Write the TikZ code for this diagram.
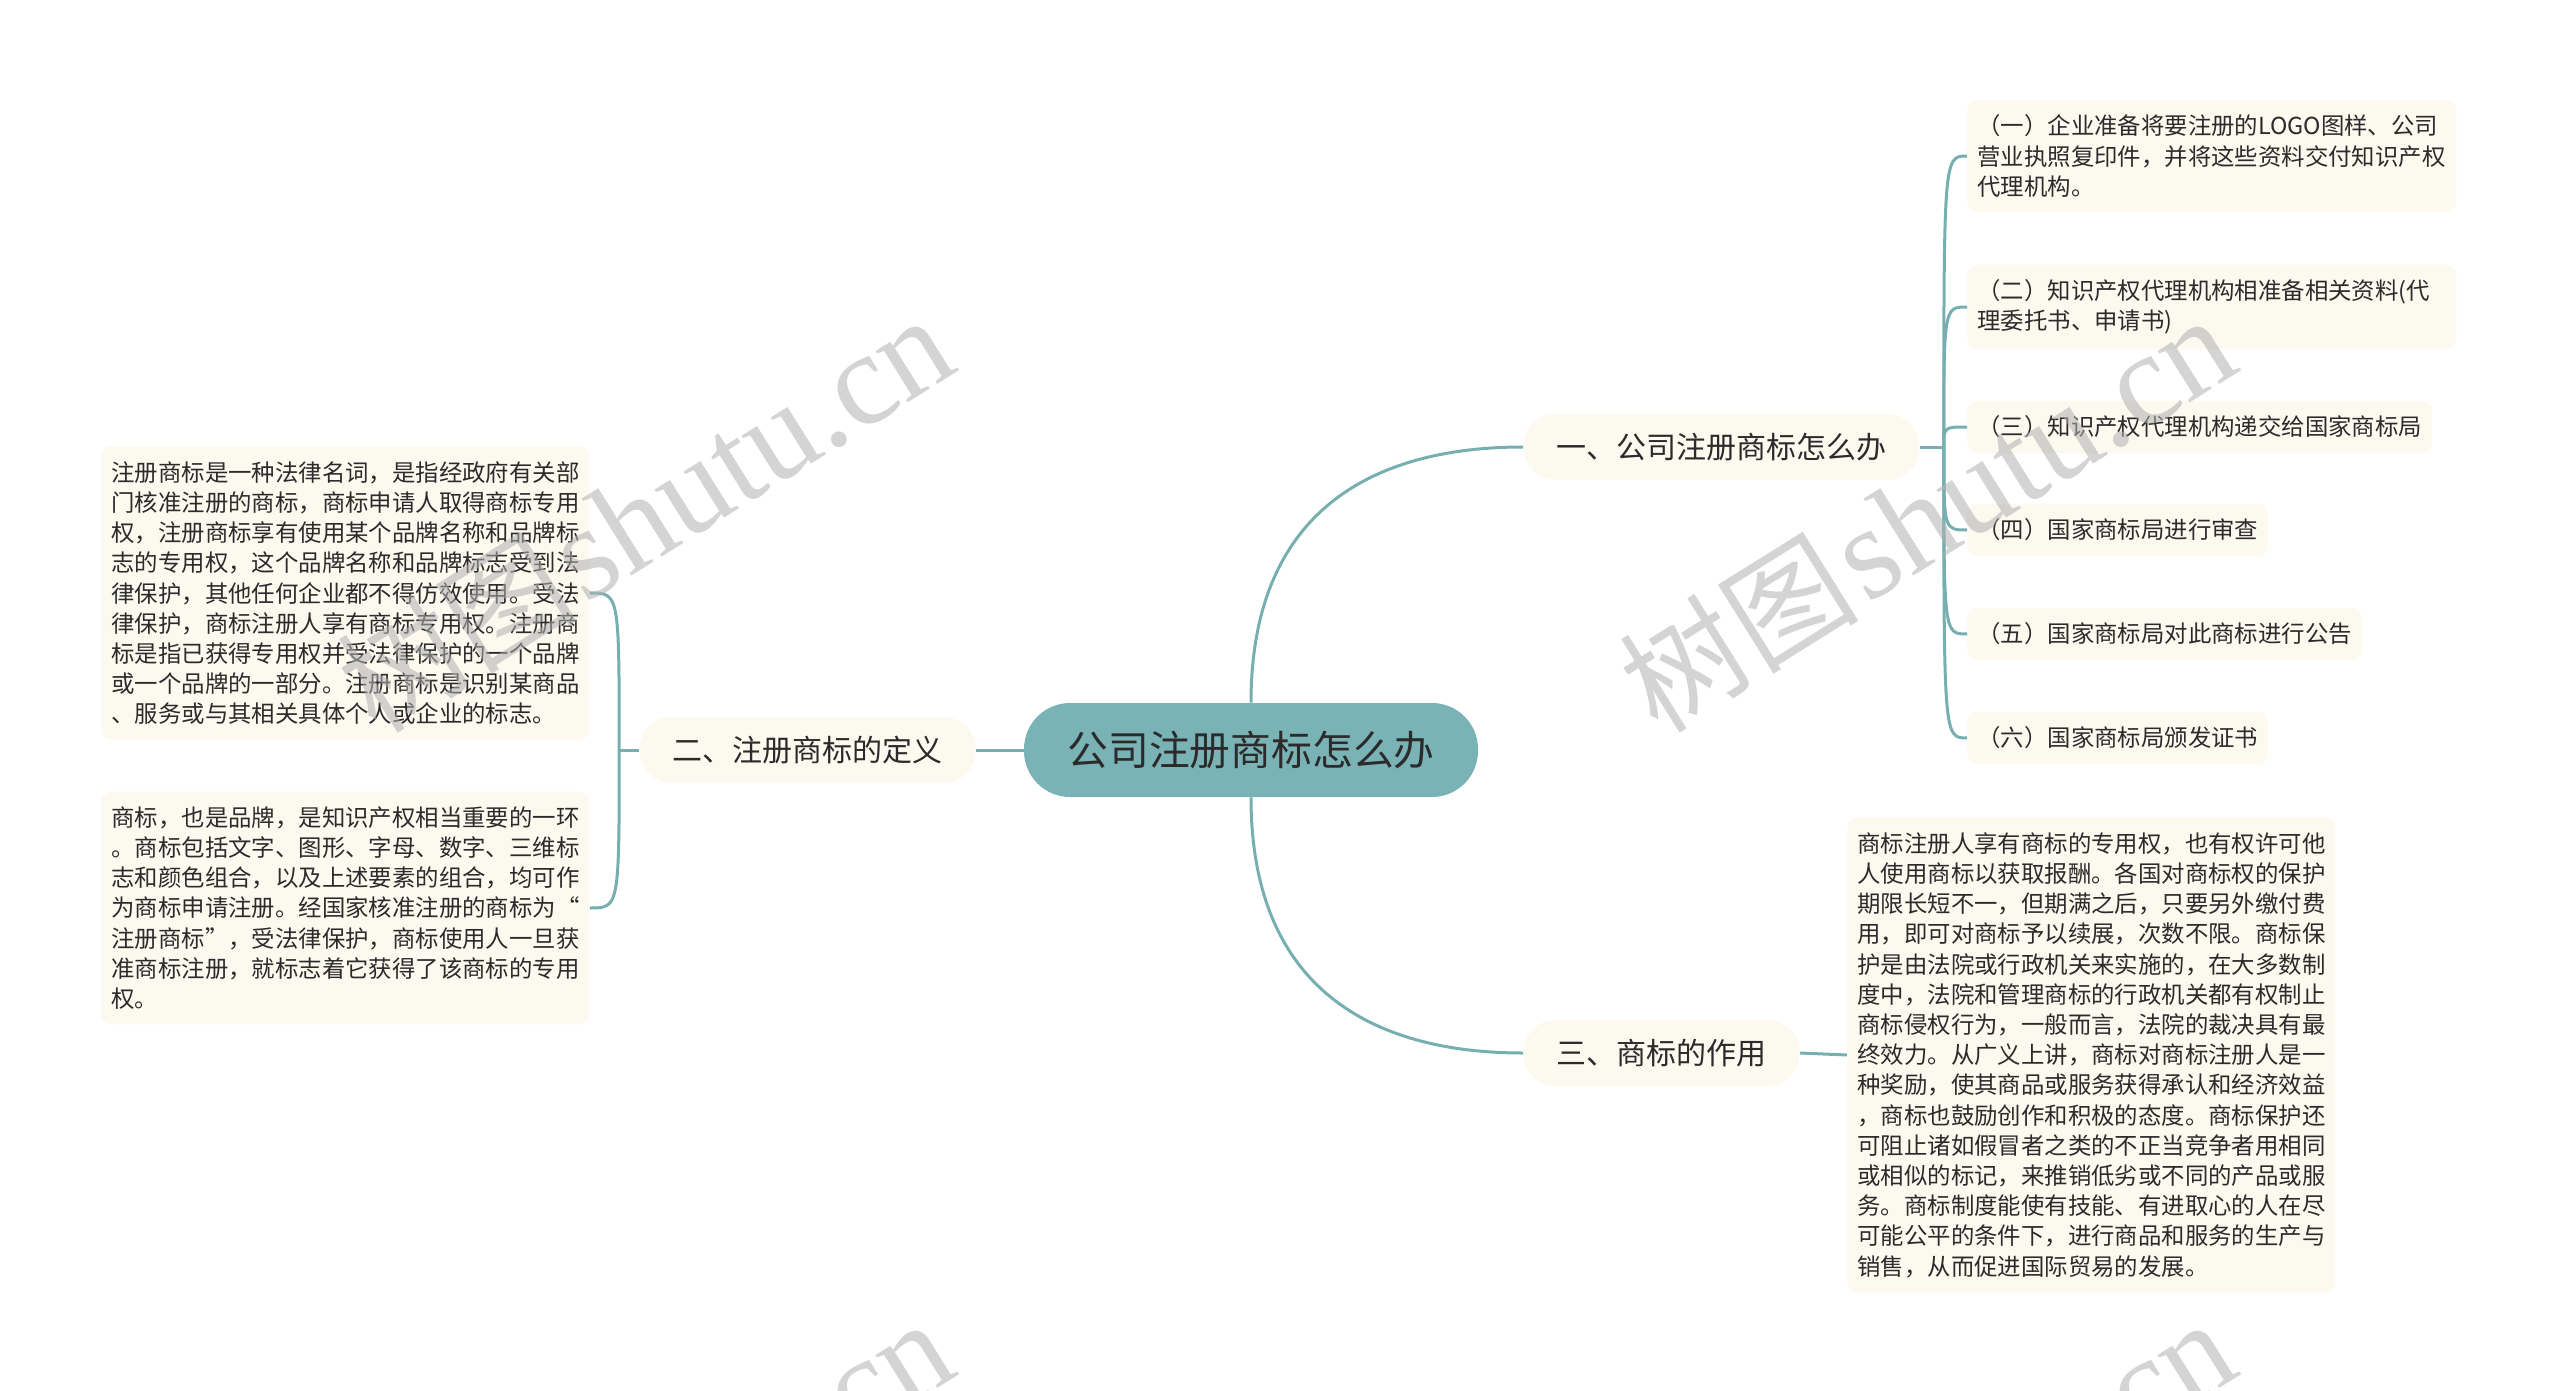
\documentclass[tikz,border=0pt]{standalone}
\usepackage{fontspec}
\usepackage{tikz}
\usetikzlibrary{calc}
\newfontfamily\cjk{Noto Sans CJK SC}
\newfontfamily\wmserif{Liberation Serif}
\definecolor{tealfill}{HTML}{7AB3B5}
\definecolor{tealline}{HTML}{77AFB1}
\definecolor{cream}{HTML}{FCF9EF}
\definecolor{ink}{HTML}{2B2B2B}
\definecolor{wmgray}{HTML}{B0B0B0}
\tikzset{
  rootbox/.style={fill=tealfill, rounded corners=23pt, minimum height=47pt,
    inner xsep=21.7pt, font=\cjk\fontsize{20.4}{24}\selectfont, text=ink},
  mainbox/.style={fill=cream, rounded corners=16pt, minimum height=33pt,
    inner xsep=16.5pt, font=\cjk\fontsize{15}{18}\selectfont, text=ink},
  leafbox/.style={fill=cream, rounded corners=5pt, align=left, anchor=west,
    inner xsep=5pt, inner ysep=7.5pt, font=\cjk\fontsize{11.7}{15.1}\selectfont, text=ink},
  wide/.style={text width=234.5pt},
  link/.style={draw=tealline, line width=1.5pt},
}
\newcommand\watermark[3]{
  \node[rotate=32, text=wmgray, opacity=0.55, inner sep=0pt] (#1) at (#2,#3)
    {{\cjk\fontsize{60}{60}\selectfont 树图} {\wmserif\fontsize{66}{66}\selectfont shutu.cn}};
}

\begin{document}
\begin{tikzpicture}[x=0.5pt, y=-0.5pt]
\useasboundingbox (0,0) rectangle (2560,1391);

\node[rootbox] (root) at (1251,750) {公司注册商标怎么办};
\node[mainbox, anchor=west] (b1) at (1523,447) {一、公司注册商标怎么办};
\node[mainbox, anchor=east] (b2) at (976,750) {二、注册商标的定义};
\node[mainbox, anchor=west] (b3) at (1523,1053) {三、商标的作用};

\foreach \n/\y/\o/\t in {
  l1/156/wide/{（一）企业准备将要注册的LOGO图样、公司\\营业执照复印件，并将这些资料交付知识产权\\代理机构。},
  l2/307/wide/{（二）知识产权代理机构相准备相关资料(代\\理委托书、申请书)},
  l3/427//{（三）知识产权代理机构递交给国家商标局},
  l4/530//{（四）国家商标局进行审查},
  l5/634//{（五）国家商标局对此商标进行公告},
  l6/738//{（六）国家商标局颁发证书}}
  \node[leafbox, \o] (\n) at (1967,\y) {\t};

\node[leafbox] (d1) at (101,593) {注册商标是一种法律名词，是指经政府有关部\\
门核准注册的商标，商标申请人取得商标专用\\
权，注册商标享有使用某个品牌名称和品牌标\\
志的专用权，这个品牌名称和品牌标志受到法\\
律保护，其他任何企业都不得仿效使用。受法\\
律保护，商标注册人享有商标专用权。注册商\\
标是指已获得专用权并受法律保护的一个品牌\\
或一个品牌的一部分。注册商标是识别某商品\\
、服务或与其相关具体个人或企业的标志。};
\node[leafbox] (d2) at (101,908) {商标，也是品牌，是知识产权相当重要的一环\\
。商标包括文字、图形、字母、数字、三维标\\
志和颜色组合，以及上述要素的组合，均可作\\
为商标申请注册。经国家核准注册的商标为“\\
注册商标”，受法律保护，商标使用人一旦获\\
准商标注册，就标志着它获得了该商标的专用\\
权。};

\node[leafbox] (e1) at (1847,1055) {商标注册人享有商标的专用权，也有权许可他\\
人使用商标以获取报酬。各国对商标权的保护\\
期限长短不一，但期满之后，只要另外缴付费\\
用，即可对商标予以续展，次数不限。商标保\\
护是由法院或行政机关来实施的，在大多数制\\
度中，法院和管理商标的行政机关都有权制止\\
商标侵权行为，一般而言，法院的裁决具有最\\
终效力。从广义上讲，商标对商标注册人是一\\
种奖励，使其商品或服务获得承认和经济效益\\
，商标也鼓励创作和积极的态度。商标保护还\\
可阻止诸如假冒者之类的不正当竞争者用相同\\
或相似的标记，来推销低劣或不同的产品或服\\
务。商标制度能使有技能、有进取心的人在尽\\
可能公平的条件下，进行商品和服务的生产与\\
销售，从而促进国际贸易的发展。};

% root to main branches
\draw[link] (root.north) .. controls ($(root.north)+(0,-192)$) and ($(b1.west)+(-150,0)$) .. (b1.west);
\draw[link] (root.south) .. controls ($(root.south)+(0,192)$) and ($(b3.west)+(-150,0)$) .. (b3.west);
\draw[link] (root.west) -- (b2.east);

% branch one
\coordinate (j1) at ($(b1.east)+(24,0)$);
\draw[link] (b1.east) -- (j1);
\foreach \n in {l1,l2,l3,l4,l5,l6}
  \draw[link] (j1) .. controls (j1 |- \n.west) .. (\n.west);

% branch two
\coordinate (j2) at ($(b2.west)+(-20,0)$);
\draw[link] (b2.west) -- (j2);
\foreach \n in {d1,d2}
  \draw[link] (j2) .. controls (j2 |- \n.east) .. (\n.east);

% branch three
\draw[link] (b3.east) -- (e1.west);

\watermark{wm1}{645}{514}
\watermark{wm2}{1927}{514}
\watermark{wm3}{645}{1518}
\watermark{wm4}{1927}{1518}
\end{tikzpicture}
\end{document}
